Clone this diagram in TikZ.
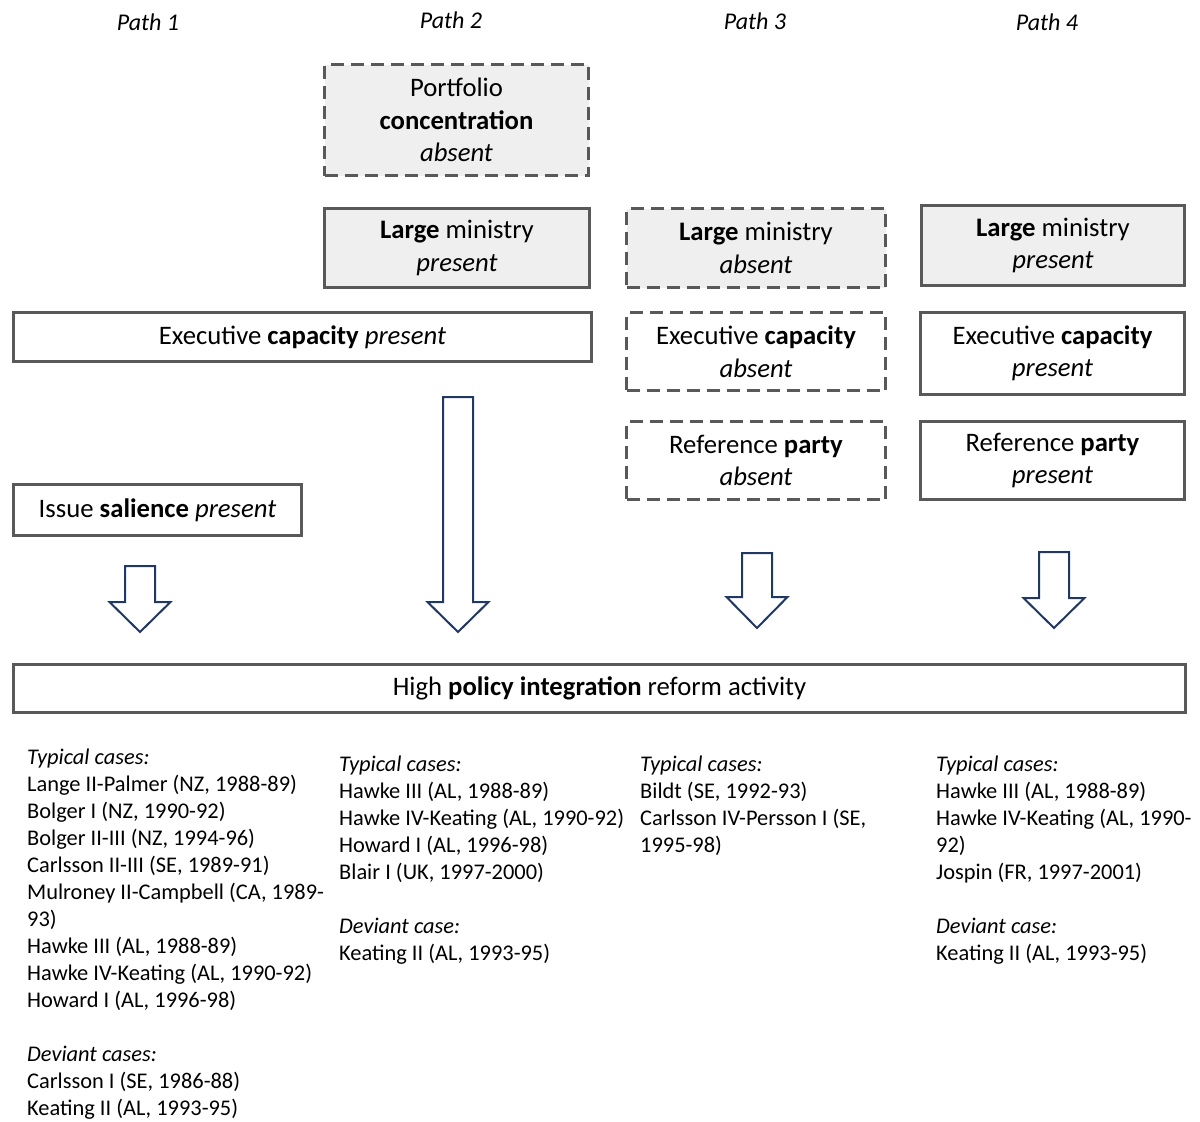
\documentclass[tikz,border=0pt]{standalone}
\usepackage{fontspec}
\setmainfont{Carlito}
\definecolor{boxline}{RGB}{89,89,89}
\definecolor{boxfill}{RGB}{239,239,239}
\definecolor{arrowline}{RGB}{32,56,100}
\newcommand{\boxfont}{\fontsize{26.7}{32.5}\selectfont}
\newcommand{\casefont}{\fontsize{22.4}{27}\selectfont}
\newcommand{\labelfont}{\fontsize{24}{29}\selectfont}
% hollow block arrow pointing down: centre x, top, start of head, tip
\newcommand{\hollowarrow}[4]{%
  \draw[blockarrow] ({#1-15},#2) -- ({#1+15},#2) -- ({#1+15},#3) -- ({#1+30.5},#3)
    -- (#1,#4) -- ({#1-30.5},#3) -- ({#1-15},#3) -- cycle;}
\begin{document}
\begin{tikzpicture}[x=1pt,y=-1pt,
  cond/.style={draw=boxline, line width=3pt, align=center, inner sep=0pt, font=\boxfont},
  shaded/.style={fill=boxfill},
  absentbox/.style={dash pattern=on 13pt off 7pt},
  pathlabel/.style={font=\labelfont\itshape, inner sep=0pt},
  cases/.style={font=\casefont, align=left, anchor=north west, inner sep=0pt},
  blockarrow/.style={draw=arrowline, line width=2pt, fill=white, line join=miter}]
\useasboundingbox (0,0) rectangle (1200,1122);

% column headings
\node[pathlabel] (p1) at (148,22) {Path 1};
\node[pathlabel] (p2) at (451,20) {Path 2};
\node[pathlabel] (p3) at (755,21) {Path 3};
\node[pathlabel] (p4) at (1047,22) {Path 4};

% path 1 and 2
\node[cond, shaded, absentbox, minimum width=264pt, minimum height=111pt] (pc2) at (456.5,120)
  {Portfolio\\\textbf{concentration}\\\textit{absent}};
\node[cond, shaded, minimum width=265pt, minimum height=79pt] (lm2) at (457,248)
  {\textbf{Large} ministry\\\textit{present}};
\node[cond, minimum width=578pt, minimum height=49pt] (ec12) at (302.5,337)
  {Executive \textbf{capacity} \textit{present}};
\node[cond, minimum width=288pt, minimum height=51pt] (is1) at (157.5,510)
  {Issue \textbf{salience} \textit{present}};

% path 3
\node[cond, shaded, absentbox, minimum width=259pt, minimum height=79pt] (lm3) at (756,248)
  {\textbf{Large} ministry\\\textit{absent}};
\node[cond, absentbox, minimum width=259pt, minimum height=78pt] (ec3) at (756,351.5)
  {Executive \textbf{capacity}\\\textit{absent}};
\node[cond, absentbox, minimum width=259pt, minimum height=78pt] (rp3) at (756,460.5)
  {Reference \textbf{party}\\\textit{absent}};

% path 4
\node[cond, shaded, minimum width=263pt, minimum height=80pt] (lm4) at (1053,245.5)
  {\textbf{Large} ministry\\\textit{present}};
\node[cond, minimum width=264pt, minimum height=82pt] (ec4) at (1052.5,353.5)
  {Executive \textbf{capacity}\\\textit{present}};
\node[cond, minimum width=264pt, minimum height=78pt] (rp4) at (1052.5,460.5)
  {Reference \textbf{party}\\\textit{present}};

% outcome
\node[cond, minimum width=1172pt, minimum height=48pt] (out) at (599.5,688.5)
  {High \textbf{policy integration} reform activity};

% arrows towards the outcome
\hollowarrow{140}{566}{602}{632}
\hollowarrow{458}{397}{602}{632}
\hollowarrow{757}{553}{597}{628}
\hollowarrow{1054}{552}{598}{628}

% cases per path
\node[cases] (c1) at (27,749) {\textit{Typical cases:}\\
  Lange II-Palmer (NZ, 1988-89)\\
  Bolger I (NZ, 1990-92)\\
  Bolger II-III (NZ, 1994-96)\\
  Carlsson II-III (SE, 1989-91)\\
  Mulroney II-Campbell (CA, 1989-\\
  93)\\
  Hawke III (AL, 1988-89)\\
  Hawke IV-Keating (AL, 1990-92)\\
  Howard I (AL, 1996-98)\\[27pt]
  \textit{Deviant cases:}\\
  Carlsson I (SE, 1986-88)\\
  Keating II (AL, 1993-95)};
\node[cases] (c2) at (339,756) {\textit{Typical cases:}\\
  Hawke III (AL, 1988-89)\\
  Hawke IV-Keating (AL, 1990-92)\\
  Howard I (AL, 1996-98)\\
  Blair I (UK, 1997-2000)\\[27pt]
  \textit{Deviant case:}\\
  Keating II (AL, 1993-95)};
\node[cases] (c3) at (640,756) {\textit{Typical cases:}\\
  Bildt (SE, 1992-93)\\
  Carlsson IV-Persson I (SE,\\
  1995-98)};
\node[cases] (c4) at (936,756) {\textit{Typical cases:}\\
  Hawke III (AL, 1988-89)\\
  Hawke IV-Keating (AL, 1990-\\
  92)\\
  Jospin (FR, 1997-2001)\\[27pt]
  \textit{Deviant case:}\\
  Keating II (AL, 1993-95)};
\end{tikzpicture}
\end{document}
